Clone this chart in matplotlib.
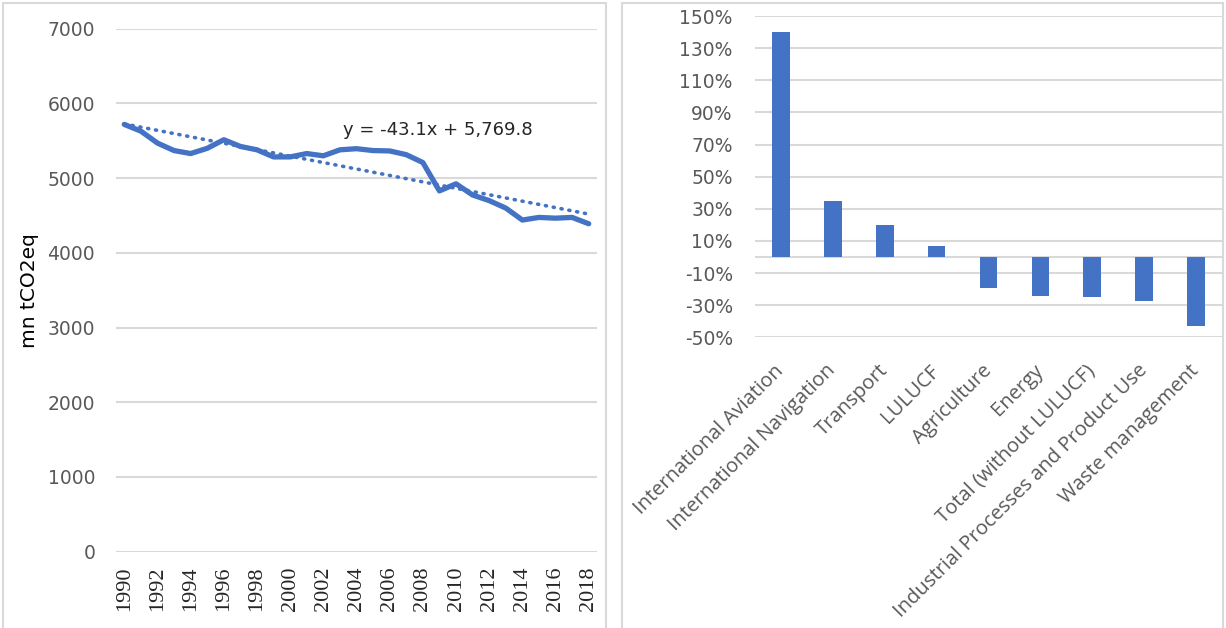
import numpy as np
import matplotlib
matplotlib.use("Agg")
import matplotlib.pyplot as plt
from matplotlib.patches import Rectangle

# Total GHG emissions, mn tCO2eq
years = list(range(1990, 2019))
emissions = [5720, 5630, 5470, 5370, 5330, 5400, 5515, 5425, 5380, 5285,
             5285, 5330, 5300, 5380, 5395, 5370, 5365, 5315, 5210, 4830,
             4925, 4775, 4700, 4600, 4440, 4475, 4465, 4475, 4390]
trend_slope = -43.1
trend_intercept = 5769.8

# Change 1990-2018 by sector
sectors = ["International Aviation", "International Navigation", "Transport",
           "LULUCF", "Agriculture", "Energy", "Total (without LULUCF)",
           "Industrial Processes and Product Use", "Waste management"]
change = [1.40, 0.35, 0.20, 0.07, -0.195, -0.24, -0.25, -0.275, -0.43]

BLUE = "#4472C4"
GRID = "#D9D9D9"
TICK = "#595959"

W, H = 1226, 628
fig = plt.figure(figsize=(W / 100, H / 100), dpi=100)

# panel frames
for x0, x1 in [(3, 606), (622, 1223)]:
    fig.patches.append(Rectangle((x0 / W, -0.05), (x1 - x0) / W, 1.05 - 3 / H,
                                 transform=fig.transFigure, fill=False,
                                 edgecolor=GRID, lw=1.5))

# ---- left: emissions trend
ax1 = fig.add_axes([116 / W, 1 - 551.7 / H, (597 - 116) / W, (551.7 - 28.8) / H])
ax1.plot(years, emissions, color=BLUE, lw=3.8, solid_capstyle="round",
         solid_joinstyle="round", zorder=3)
idx = np.arange(1, len(years) + 1)
ax1.plot(years, trend_slope * idx + trend_intercept, color=BLUE, lw=2.6,
         linestyle=(0, (0.3, 1.9)), dash_capstyle="round", zorder=2)
ax1.text(2003.2, 5650, "y = -43.1x + 5,769.8", fontsize=13, color="#262626",
         va="center", ha="left")
ax1.set_xlim(1989.5, 2018.5)
ax1.set_ylim(0, 7000)
ax1.set_yticks(range(0, 7001, 1000))
ax1.set_xticks(years[::2])
ax1.set_xticklabels([str(y) for y in years[::2]], rotation=90,
                    family="Liberation Serif", fontsize=16, color="#262626")
ax1.tick_params(axis="y", length=0, pad=15, labelsize=13.5, labelcolor=TICK)
ax1.tick_params(axis="x", length=0, pad=11)
ax1.set_ylabel("mn tCO2eq", fontsize=14.5, color="black")
ax1.yaxis.set_label_coords(-0.16, 0.5)
ax1.grid(axis="y", color=GRID, lw=1.5)
ax1.set_axisbelow(True)
for s in ax1.spines.values():
    s.set_visible(False)

# ---- right: sector change
ax2 = fig.add_axes([755 / W, 1 - 337.3 / H, (1222 - 755) / W, (337.3 - 16) / H])
pos = np.arange(len(sectors))
ax2.bar(pos, change, width=0.34, color=BLUE, zorder=3)
ax2.axhline(0, color=GRID, lw=1.5, zorder=2)
ax2.set_xlim(-0.5, len(sectors) - 0.5)
ax2.set_ylim(-0.5, 1.5)
yt = np.arange(-0.5, 1.51, 0.2)
ax2.set_yticks(yt)
ax2.set_yticklabels([f"{v * 100:.0f}%" for v in yt])
ax2.set_xticks(pos)
ax2.set_xticklabels(sectors, rotation=45, ha="right", va="center",
                    rotation_mode="anchor", fontsize=14.5, family="Open Sans",
                    color=TICK)
ax2.tick_params(axis="y", length=0, pad=16, labelsize=13.5, labelcolor=TICK)
ax2.tick_params(axis="x", length=0, pad=22)
ax2.grid(axis="y", color=GRID, lw=1.5)
ax2.set_axisbelow(True)
for s in ax2.spines.values():
    s.set_visible(False)

fig.savefig("out.png", dpi=100, facecolor="white")
